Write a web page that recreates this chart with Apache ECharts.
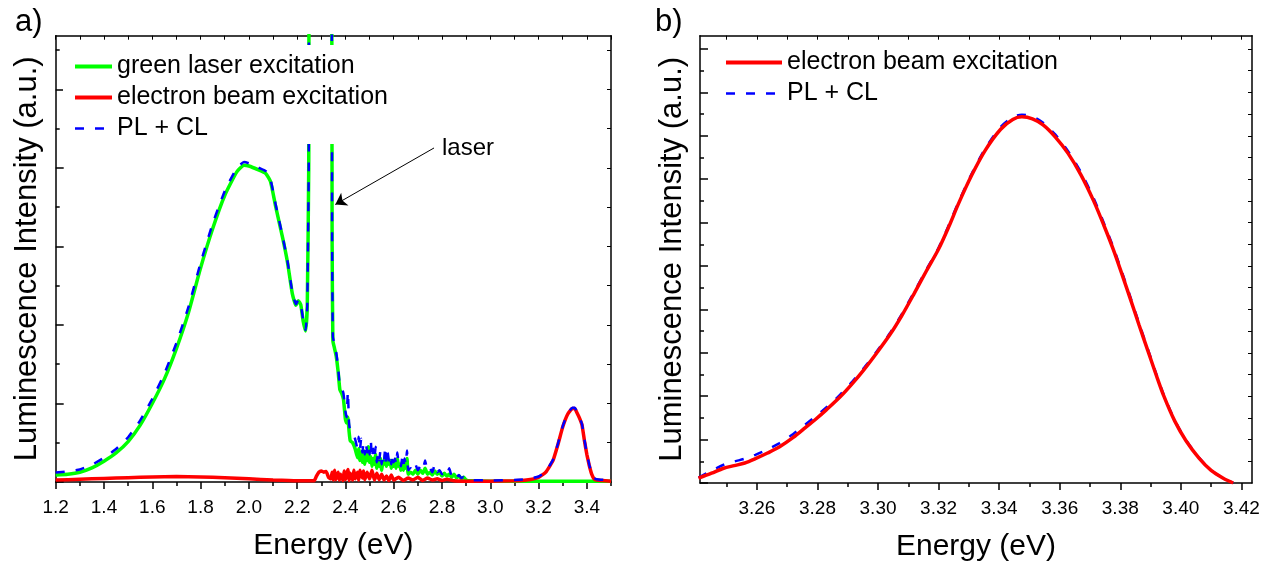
<!DOCTYPE html>
<html>
<head>
<meta charset="utf-8">
<title>Luminescence spectra</title>
<script src="https://cdn.jsdelivr.net/npm/echarts@6.0.0/dist/echarts.min.js"></script>
<style>
html, body { margin: 0; padding: 0; background: #fff; }
#chart { width: 1274px; height: 567px; }
</style>
</head>
<body>
<div id="chart"></div>
<script>
// panel a) : [energy eV, intensity a.u.]
var greenA = [[1.20,0.18],[1.25,0.20],[1.30,0.25],[1.35,0.36],[1.40,0.53],[1.45,0.74],[1.50,1.03],[1.55,1.45],[1.60,2.00],[1.65,2.62],[1.70,3.40],[1.75,4.32],[1.80,5.45],[1.85,6.45],[1.90,7.30],[1.95,7.90],[1.98,8.07],[2.00,8.05],[2.04,7.95],[2.07,7.86],[2.09,7.65],[2.11,7.05],[2.14,6.22],[2.16,5.60],[2.18,4.80],[2.195,4.50],[2.205,4.62],[2.215,4.52],[2.225,4.10],[2.235,3.85],[2.242,4.5],[2.248,8],[2.252,14],[2.34,14],[2.345,6],[2.348,3.6],[2.355,3.40],[2.362,3.20],[2.37,2.8],[2.377,2.35],[2.385,2.25],[2.392,2.1],[2.40,1.6],[2.405,1.5],[2.41,1.65],[2.415,1.3],[2.42,1.05],[2.43,1.0],[2.44,0.85],[2.45,0.62],[2.455,0.85],[2.46,0.55],[2.465,0.75],[2.47,0.5],[2.475,0.8],[2.48,0.45],[2.485,0.7],[2.49,0.55],[2.495,0.9],[2.50,0.5],[2.505,0.65],[2.51,0.4],[2.515,0.6],[2.52,0.45],[2.525,0.7],[2.53,0.35],[2.535,0.55],[2.54,0.4],[2.545,0.6],[2.55,0.3],[2.555,0.5],[2.56,0.45],[2.565,0.7],[2.57,0.4],[2.575,0.6],[2.58,0.45],[2.585,0.55],[2.59,0.35],[2.595,0.55],[2.60,0.4],[2.605,0.5],[2.61,0.35],[2.615,0.6],[2.62,0.4],[2.625,0.45],[2.63,0.3],[2.635,0.5],[2.64,0.3],[2.645,0.5],[2.65,0.35],[2.655,0.6],[2.66,0.2],[2.67,0.25],[2.68,0.2],[2.69,0.3],[2.70,0.2],[2.71,0.3],[2.72,0.22],[2.73,0.35],[2.74,0.2],[2.75,0.25],[2.76,0.18],[2.77,0.28],[2.78,0.2],[2.79,0.25],[2.80,0.15],[2.81,0.22],[2.82,0.15],[2.83,0.2],[2.84,0.12],[2.85,0.2],[2.86,0.1],[2.87,0.16],[2.88,0.08],[2.89,0.12],[2.90,0.05],[2.92,0.03],[3.00,0.02],[3.20,0.02],[3.50,0.02]];
var redA = [[1.20,0.05],[1.30,0.07],[1.40,0.09],[1.50,0.11],[1.60,0.13],[1.70,0.14],[1.80,0.13],[1.90,0.11],[2.00,0.08],[2.10,0.05],[2.20,0.03],[2.27,0.03],[2.28,0.15],[2.29,0.25],[2.30,0.28],[2.31,0.25],[2.32,0.27],[2.33,0.12],[2.34,0.08],[2.345,0.25],[2.35,0.05],[2.355,0.3],[2.36,0.06],[2.37,0.25],[2.375,0.05],[2.38,0.2],[2.39,0.04],[2.395,0.28],[2.40,0.06],[2.41,0.32],[2.415,0.04],[2.42,0.22],[2.43,0.05],[2.435,0.3],[2.44,0.08],[2.45,0.25],[2.455,0.05],[2.46,0.3],[2.47,0.1],[2.475,0.28],[2.48,0.06],[2.49,0.25],[2.50,0.08],[2.51,0.3],[2.52,0.05],[2.53,0.22],[2.54,0.06],[2.55,0.2],[2.56,0.05],[2.57,0.15],[2.58,0.04],[2.59,0.18],[2.60,0.05],[2.62,0.12],[2.64,0.04],[2.66,0.1],[2.68,0.05],[2.70,0.12],[2.72,0.04],[2.74,0.1],[2.76,0.05],[2.78,0.08],[2.80,0.04],[2.82,0.07],[2.85,0.03],[2.90,0.02],[3.00,0.02],[3.10,0.03],[3.15,0.05],[3.20,0.12],[3.23,0.25],[3.26,0.55],[3.28,0.95],[3.30,1.40],[3.32,1.72],[3.34,1.87],[3.35,1.87],[3.36,1.75],[3.37,1.62],[3.38,1.45],[3.39,1.05],[3.40,0.70],[3.405,0.56],[3.41,0.42],[3.42,0.20],[3.43,0.08],[3.44,0.05],[3.50,0.02]];
var blueA = [[1.20,0.24],[1.25,0.27],[1.30,0.32],[1.35,0.44],[1.40,0.62],[1.45,0.84],[1.50,1.14],[1.55,1.57],[1.60,2.12],[1.65,2.76],[1.70,3.54],[1.75,4.46],[1.80,5.58],[1.85,6.58],[1.90,7.41],[1.95,8.00],[1.98,8.15],[2.00,8.12],[2.04,8.01],[2.07,7.92],[2.09,7.70],[2.11,7.10],[2.14,6.25],[2.16,5.63],[2.18,4.84],[2.195,4.53],[2.205,4.64],[2.215,4.54],[2.225,4.12],[2.235,3.87],[2.242,4.5],[2.248,8],[2.252,14],[2.34,14],[2.345,6],[2.348,3.7],[2.355,3.5],[2.362,3.3],[2.37,2.9],[2.377,2.45],[2.385,2.4],[2.392,2.25],[2.40,1.8],[2.405,1.65],[2.41,2.3],[2.415,1.5],[2.42,1.3],[2.43,1.25],[2.44,1.1],[2.45,0.85],[2.455,1.15],[2.46,0.8],[2.465,1.1],[2.47,0.75],[2.475,1.0],[2.48,0.7],[2.485,1.0],[2.49,0.75],[2.495,0.95],[2.50,0.7],[2.505,1.05],[2.51,0.6],[2.515,0.85],[2.52,0.6],[2.525,0.9],[2.53,0.5],[2.535,0.75],[2.54,0.55],[2.545,0.8],[2.55,0.45],[2.555,0.7],[2.56,0.55],[2.565,0.9],[2.57,0.5],[2.575,0.75],[2.58,0.55],[2.585,0.7],[2.59,0.45],[2.595,0.7],[2.60,0.5],[2.605,0.6],[2.61,0.45],[2.615,0.75],[2.62,0.5],[2.625,0.55],[2.63,0.4],[2.635,0.6],[2.64,0.4],[2.645,0.6],[2.65,0.45],[2.655,0.8],[2.66,0.3],[2.67,0.35],[2.68,0.28],[2.69,0.45],[2.70,0.3],[2.71,0.4],[2.72,0.3],[2.73,0.55],[2.74,0.28],[2.75,0.35],[2.76,0.25],[2.77,0.45],[2.78,0.25],[2.79,0.3],[2.80,0.2],[2.81,0.28],[2.82,0.2],[2.83,0.35],[2.84,0.15],[2.85,0.22],[2.86,0.12],[2.87,0.18],[2.88,0.1],[2.89,0.13],[2.90,0.07],[2.92,0.05],[3.00,0.04],[3.10,0.05],[3.15,0.07],[3.20,0.14],[3.23,0.27],[3.26,0.57],[3.28,0.97],[3.30,1.42],[3.32,1.74],[3.34,1.89],[3.35,1.89],[3.36,1.77],[3.37,1.64],[3.38,1.47],[3.39,1.08],[3.40,0.72],[3.405,0.58],[3.41,0.44],[3.42,0.22],[3.43,0.10],[3.44,0.07],[3.50,0.04]];

// panel b) : [energy eV, intensity a.u.]
var redB = [[3.2407,0.22],[3.245,0.45],[3.249,0.68],[3.2525,0.80],[3.256,0.92],[3.2595,1.12],[3.2635,1.38],[3.2675,1.67],[3.272,2.10],[3.276,2.55],[3.2795,2.95],[3.283,3.38],[3.2875,3.97],[3.2915,4.58],[3.2955,5.25],[3.2995,5.98],[3.304,6.85],[3.308,7.75],[3.312,8.75],[3.316,9.78],[3.320,10.78],[3.3235,11.85],[3.3265,12.85],[3.331,14.2],[3.3355,15.35],[3.3405,16.3],[3.3445,16.75],[3.3475,16.87],[3.351,16.78],[3.3545,16.5],[3.3585,15.95],[3.3627,15.2],[3.367,14.2],[3.3712,13.0],[3.3745,11.9],[3.3778,10.72],[3.3806,9.6],[3.3834,8.45],[3.3862,7.28],[3.3891,6.1],[3.3918,5.0],[3.3944,4.0],[3.398,2.85],[3.4017,1.95],[3.406,1.15],[3.410,0.58],[3.414,0.22],[3.4173,0.0]];
var blueB = [[3.2407,0.25],[3.245,0.57],[3.249,0.84],[3.2525,0.99],[3.256,1.12],[3.2595,1.30],[3.2635,1.55],[3.2675,1.84],[3.272,2.26],[3.276,2.70],[3.2795,3.08],[3.283,3.49],[3.2875,4.07],[3.2915,4.67],[3.2955,5.33],[3.2995,6.05],[3.304,6.92],[3.308,7.82],[3.312,8.82],[3.316,9.84],[3.320,10.84],[3.3235,11.92],[3.3265,12.92],[3.331,14.27],[3.3355,15.43],[3.3405,16.4],[3.3445,16.85],[3.3475,16.97],[3.351,16.88],[3.3545,16.6],[3.3585,16.06],[3.3627,15.3],[3.367,14.32],[3.3712,13.12],[3.3745,12.0],[3.3778,10.82],[3.3806,9.7],[3.3834,8.54],[3.3862,7.36],[3.3891,6.17],[3.3918,5.06],[3.3944,4.05],[3.398,2.89],[3.4017,1.98],[3.406,1.17],[3.410,0.59],[3.414,0.22],[3.4173,0.0]];

// tick labels / tick positions
var ticksA = [1.2,1.4,1.6,1.8,2.0,2.2,2.4,2.6,2.8,3.0,3.2,3.4];
var minorTicksA = [1.3,1.5,1.7,1.9,2.1,2.3,2.5,2.7,2.9,3.1,3.3,3.5];
var topTicksA = [1.2,1.3,1.4,1.5,1.6,1.7,1.8,1.9,2.0,2.1,2.2,2.3,2.4,2.5,2.6,2.7,2.8,2.9,3.0,3.1,3.2,3.3,3.4,3.5];
var ticksB = [3.26,3.28,3.30,3.32,3.34,3.36,3.38,3.40,3.42];
var minorTicksB = [3.25,3.27,3.29,3.31,3.33,3.35,3.37,3.39,3.41];
var topTicksB = [3.25,3.26,3.27,3.28,3.29,3.30,3.31,3.32,3.33,3.34,3.35,3.36,3.37,3.38,3.39,3.40,3.41,3.42];
var yMajorA = [0,2,4,6,8,10];
var yMinorA = [1,3,5,7,9,11];
var yAllA = [1,2,3,4,5,6,7,8,9,10,11];
var yMajorB = [0,2,4,6,8,10,12,14,16,18,20];
var yMinorB = [1,3,5,7,9,11,13,15,17,19];
var yAllB = [1,2,3,4,5,6,7,8,9,10,11,12,13,14,15,16,17,18,19,20];

// "laser" annotation
var arrowFrom = [2.767, 8.51];
var arrowTo = [2.358, 7.07];
var laserLabelAt = [2.80, 8.51];

var FONT = "'Liberation Sans', Arial, Helvetica, sans-serif";
var AXIS_COLOR = '#000';

function xMain(grid, min, max, ticks, digits) {
    return {
        type: 'value', gridIndex: grid, min: min, max: max, position: 'bottom',
        name: 'Energy (eV)', nameLocation: 'middle', nameGap: 49,
        nameTextStyle: { fontFamily: FONT, fontSize: 30, color: '#000' },
        axisLine: { show: true, onZero: false, lineStyle: { color: AXIS_COLOR, width: 1.5 } },
        axisTick: { show: true, inside: false, length: 7, customValues: ticks, lineStyle: { color: AXIS_COLOR, width: 1.5 } },
        axisLabel: {
            show: true, customValues: ticks, margin: 16, fontFamily: FONT, fontSize: 19, color: '#000',
            formatter: function (v) { return v.toFixed(digits); }
        },
        splitLine: { show: false }
    };
}
function xMinor(grid, min, max, ticks) {
    return {
        type: 'value', gridIndex: grid, min: min, max: max, position: 'bottom',
        axisLine: { show: false, onZero: false },
        axisTick: { show: true, inside: false, length: 4, customValues: ticks, lineStyle: { color: AXIS_COLOR, width: 1.5 } },
        axisLabel: { show: false }, splitLine: { show: false }
    };
}
function xTop(grid, min, max, ticks) {
    return {
        type: 'value', gridIndex: grid, min: min, max: max, position: 'top',
        axisLine: { show: true, onZero: false, lineStyle: { color: AXIS_COLOR, width: 1.5 } },
        axisTick: { show: true, inside: true, length: 4, customValues: ticks, lineStyle: { color: AXIS_COLOR, width: 1 } },
        axisLabel: { show: false }, splitLine: { show: false }
    };
}
function yMain(grid, max, ticks, gap) {
    return {
        type: 'value', gridIndex: grid, min: 0, max: max, position: 'left',
        name: 'Luminescence Intensity (a.u.)', nameLocation: 'middle', nameGap: gap,
        nameTextStyle: { fontFamily: FONT, fontSize: 31, color: '#000' },
        axisLine: { show: true, onZero: false, lineStyle: { color: AXIS_COLOR, width: 1.5 } },
        axisTick: { show: true, inside: true, length: 8, customValues: ticks, lineStyle: { color: AXIS_COLOR, width: 1.5 } },
        axisLabel: { show: false }, splitLine: { show: false }
    };
}
function yMinor(grid, max, ticks) {
    return {
        type: 'value', gridIndex: grid, min: 0, max: max, position: 'left',
        axisLine: { show: false, onZero: false },
        axisTick: { show: true, inside: true, length: 4, customValues: ticks, lineStyle: { color: AXIS_COLOR, width: 1.5 } },
        axisLabel: { show: false }, splitLine: { show: false }
    };
}
function yRight(grid, max, ticks) {
    return {
        type: 'value', gridIndex: grid, min: 0, max: max, position: 'right',
        axisLine: { show: true, onZero: false, lineStyle: { color: AXIS_COLOR, width: 1.5 } },
        axisTick: { show: true, inside: true, length: 4, customValues: ticks, lineStyle: { color: AXIS_COLOR, width: 1 } },
        axisLabel: { show: false }, splitLine: { show: false }
    };
}

function lineSeries(name, xi, yi, data, color, width, dashed, z, smooth) {
    return {
        name: name, type: 'line', xAxisIndex: xi, yAxisIndex: yi, data: data,
        symbol: 'none', showSymbol: false, smooth: smooth, z: z,
        itemStyle: { color: color },
        lineStyle: { color: color, width: width, type: dashed ? [9, 11] : 'solid' }
    };
}

var XMIN_A = 1.2, XMAX_A = 3.5, YMAX_A = 11.37;
var XMIN_B = 3.2412, XMAX_B = 3.4235, YMAX_B = 20.61;

var blueSeriesA = lineSeries('PL + CL', 0, 0, blueA, '#0000ff', 2.5, true, 3, 0.15);
blueSeriesA.markLine = {
    silent: true, symbol: ['none', 'arrow'], symbolSize: 11,
    lineStyle: { color: '#000', width: 1, type: 'solid' },
    label: { show: false },
    data: [[{ coord: arrowFrom }, { coord: arrowTo }]]
};
blueSeriesA.markPoint = {
    silent: true, symbol: 'circle', symbolSize: 0,
    label: { show: true, position: 'right', distance: 0, formatter: 'laser', fontFamily: FONT, fontSize: 24, color: '#000' },
    data: [{ coord: laserLabelAt }]
};

var legendText = { fontFamily: FONT, fontSize: 25, lineHeight: 25, color: '#000' };
function legendItem(name, width) {
    return { name: name, lineStyle: { width: width } };
}

var option = {
    animation: false,
    backgroundColor: '#fff',
    textStyle: { fontFamily: FONT },
    title: [
        { text: 'a)', left: 15, top: 7, padding: 0, textStyle: { fontFamily: FONT, fontSize: 31, fontWeight: 'normal', color: '#000' } },
        { text: 'b)', left: 655, top: 7, padding: 0, textStyle: { fontFamily: FONT, fontSize: 31, fontWeight: 'normal', color: '#000' } }
    ],
    legend: [
        {
            data: [legendItem('green laser excitation', 4), legendItem('electron beam excitation', 4), legendItem('PL + CL', 2.7)],
            orient: 'vertical', left: 63, top: 45, padding: [9, 8, 3, 10], itemGap: 6, z: 20,
            itemWidth: 37, itemHeight: 14, backgroundColor: '#fff', selectedMode: false,
            itemStyle: { opacity: 0 },
            textStyle: legendText
        },
        {
            data: [legendItem('electron beam excitation', 4), legendItem('PL + CL', 2.7)],
            orient: 'vertical', left: 714, top: 46, padding: [4, 8, 4, 10], itemGap: 6, z: 20,
            itemWidth: 56, itemHeight: 14, selectedMode: false,
            itemStyle: { opacity: 0 },
            textStyle: legendText
        }
    ],
    grid: [
        { left: 55.7, top: 35.7, width: 555.3, height: 446.3 },
        { left: 700, top: 35.7, width: 552, height: 447.3 }
    ],
    xAxis: [
        xMain(0, XMIN_A, XMAX_A, ticksA, 1),
        xMinor(0, XMIN_A, XMAX_A, minorTicksA),
        xTop(0, XMIN_A, XMAX_A, topTicksA),
        xMain(1, XMIN_B, XMAX_B, ticksB, 2),
        xMinor(1, XMIN_B, XMAX_B, minorTicksB),
        xTop(1, XMIN_B, XMAX_B, topTicksB)
    ],
    yAxis: [
        yMain(0, YMAX_A, yMajorA, 13),
        yMinor(0, YMAX_A, yMinorA),
        yRight(0, YMAX_A, yAllA),
        yMain(1, YMAX_B, yMajorB, 12),
        yMinor(1, YMAX_B, yMinorB),
        yRight(1, YMAX_B, yAllB)
    ],
    series: [
        lineSeries('green laser excitation', 0, 0, greenA, '#00ff00', 3.5, false, 1, 0.15),
        lineSeries('electron beam excitation', 0, 0, redA, '#ff0000', 3.5, false, 2, 0.15),
        blueSeriesA,
        lineSeries('PL + CL', 3, 3, blueB, '#0000ff', 2.5, true, 1, 0.3),
        lineSeries('electron beam excitation', 3, 3, redB, '#ff0000', 3.5, false, 2, 0.3)
    ]
};

var myChart = echarts.init(document.getElementById('chart'), null, { renderer: 'canvas' });
myChart.setOption(option);
</script>
</body>
</html>
